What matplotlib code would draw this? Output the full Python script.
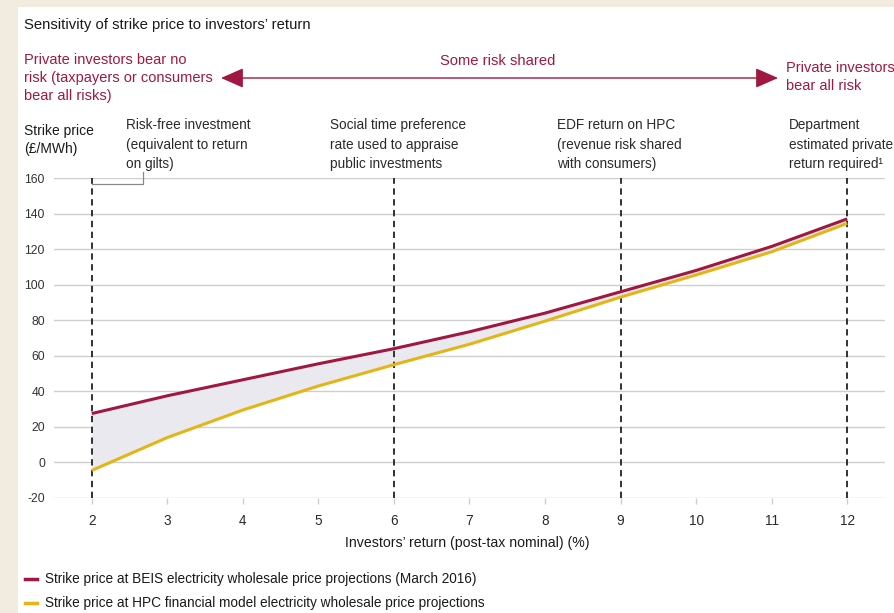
import matplotlib
matplotlib.use("Agg")
import matplotlib.pyplot as plt
from matplotlib.patches import Rectangle, FancyArrowPatch
from matplotlib.lines import Line2D

plt.rcParams['font.family'] = ['Liberation Sans', 'DejaVu Sans']

# ---- data ----
returns = [2, 3, 4, 5, 6, 7, 8, 9, 10, 11, 12]
beis = [27.5, 37.5, 46.5, 55.5, 64, 73.5, 84, 96, 108, 121.5, 137]
hpc = [-4.5, 14, 29.5, 43, 55, 66.5, 79.5, 93, 105.5, 118.5, 134.5]
marker_returns = [2, 6, 9, 12]
marker_labels = [
    "Risk-free investment\n(equivalent to return\non gilts)",
    "Social time preference\nrate used to appraise\npublic investments",
    "EDF return on HPC\n(revenue risk shared\nwith consumers)",
    "Department\nestimated private\nreturn required\u00b9",
]
x_ticks = [2, 3, 4, 5, 6, 7, 8, 9, 10, 11, 12]
y_ticks = [-20, 0, 20, 40, 60, 80, 100, 120, 140, 160]
series_names = [
    "Strike price at BEIS electricity wholesale price projections (March 2016)",
    "Strike price at HPC financial model electricity wholesale price projections",
]

W, H = 895, 613
RED = "#a01840"
GOLD = "#e3b516"
BEIGE = "#f2ebe0"
GRID = "#cfcfcf"
TXT = "#1a1a1a"

fig = plt.figure(figsize=(W / 100, H / 100), dpi=100)
fig.patch.set_facecolor(BEIGE)
fig.patches.append(Rectangle((18 / W, 0), 1 - 18 / W, 1 - 7 / H, transform=fig.transFigure,
                             facecolor="white", edgecolor="none", zorder=-5))


def P(x, y):
    return (x / W, 1 - y / H)


ax = fig.add_axes([54 / W, 1 - 498 / H, (885 - 54) / W, (498 - 178) / H], zorder=1)
ax.set_facecolor("none")
ax.set_xlim(1.5, 12.5)
ax.set_ylim(-20, 160)

for yv in y_ticks:
    ax.axhline(yv, color=GRID, lw=1.0, zorder=1)
for s in ax.spines.values():
    s.set_visible(False)

ax.set_xticks(x_ticks)
ax.set_xticklabels([str(v) for v in x_ticks])
ax.set_yticks(y_ticks)
ax.set_yticklabels([str(v) for v in y_ticks])
ax.tick_params(axis="x", length=4, color=GRID, width=1, pad=7.8, labelsize=9.8, labelcolor="#2a2a2a")
ax.tick_params(axis="y", length=0, pad=6.5, labelsize=8.7, labelcolor="#333333")

for xv in marker_returns:
    ax.plot([xv, xv], [-20, 160], color="#222222", lw=1.3, ls=(0, (3.5, 2.5)), zorder=3)

ax.fill_between(returns, beis, hpc, color="#e9e9ef", lw=0, zorder=2)
ax.plot(returns, hpc, color=GOLD, lw=2.2, zorder=4, solid_capstyle="butt")
ax.plot(returns, beis, color=RED, lw=2.2, zorder=5, solid_capstyle="butt")

# bracket from risk-free line to label
ax.plot([2, 2.675, 2.675], [156.6, 156.6, 163.2], color="#8a8a8a", lw=0.9, clip_on=False, zorder=3)

ax.set_xlabel("Investors\u2019 return (post-tax nominal) (%)", fontsize=10.2, color=TXT)
ax.xaxis.set_label_coords((467 - 54) / (885 - 54), -(543 - 498) / (498 - 178))
ax.xaxis.label.set_va("center")

# ---- texts ----
fig.text(*P(24, 25), "Sensitivity of strike price to investors\u2019 return", fontsize=10.7,
         color=TXT, va="center", ha="left")
fig.text(*P(24, 78), "Private investors bear no\nrisk (taxpayers or consumers\nbear all risks)",
         fontsize=10.5, color=RED, va="center", ha="left", linespacing=1.35)
fig.text(*P(498, 61), "Some risk shared", fontsize=10.6, color=RED, va="center", ha="center")
fig.text(*P(786, 77), "Private investors\nbear all risk", fontsize=10.5, color=RED,
         va="center", ha="left", linespacing=1.35)
fig.add_artist(FancyArrowPatch(
    P(221, 78), P(778, 78), transform=fig.transFigure, arrowstyle="<|-|>,head_length=5,head_width=2.2",
    color=RED, lw=1.0, mutation_scale=2.8, shrinkA=0, shrinkB=0))

fig.text(*P(24, 140), "Strike price\n(\u00a3/MWh)", fontsize=10, color=TXT, va="center",
         ha="left", linespacing=1.4)
label_x = [126, 330, 557, 789]
for lx, lab in zip(label_x, marker_labels):
    fig.text(*P(lx, 145), lab, fontsize=9.8, color="#2a2a2a", va="center", ha="left", linespacing=1.5)

# legend
for i, (name, col) in enumerate(zip(series_names, [RED, GOLD])):
    yy = 579 + 24 * i
    fig.add_artist(Line2D([25 / W, 37 / W], [1 - yy / H, 1 - yy / H],
                          transform=fig.transFigure, color=col, lw=2.5))
    fig.text(*P(45, yy), name, fontsize=9.8, color=TXT, va="center", ha="left")

fig.savefig("out.png", dpi=100, facecolor=fig.get_facecolor())
